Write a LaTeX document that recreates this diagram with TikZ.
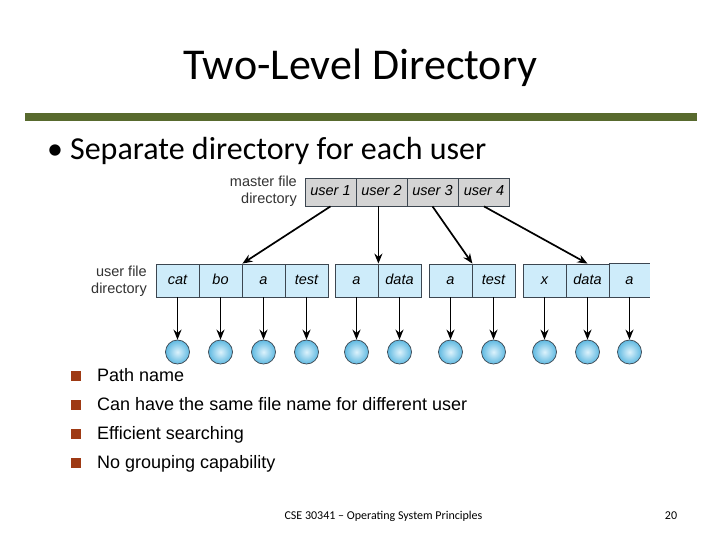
\documentclass[tikz,border=0pt]{standalone}
\usepackage{fontspec}
\setmainfont{Carlito}
\newfontfamily\arialf{Liberation Sans}
\usetikzlibrary{arrows.meta}
\definecolor{bargreen}{RGB}{88,106,46}
\definecolor{sqbrown}{RGB}{158,58,20}
\definecolor{mgray}{RGB}{212,212,212}
\definecolor{fblue}{RGB}{206,236,250}
\definecolor{cedge}{RGB}{60,70,80}
\definecolor{ballout}{RGB}{95,185,225}
\definecolor{ballin}{RGB}{220,242,252}
\tikzset{
  mcell/.style={draw=cedge, fill=mgray, line width=0.8pt, minimum width=51pt, minimum height=28pt, inner sep=0pt, text height=10.5pt, text depth=3pt, font=\arialf\itshape\fontsize{14.5}{14.5}\selectfont},
  fcell/.style={draw=cedge, fill=fblue, line width=0.8pt, minimum width=43pt, minimum height=33pt, inner sep=0pt, text height=10.5pt, text depth=3pt, font=\arialf\itshape\fontsize{14.5}{14.5}\selectfont},
  filec/.style={circle, draw=cedge, line width=0.7pt, minimum size=24pt, inner sep=0pt, inner color=ballin, outer color=ballout},
  ptr/.style={line width=1.7pt, -{Stealth[length=10pt,width=8pt]}},
  dlabel/.style={font=\arialf\fontsize{14.5}{17}\selectfont, align=right, anchor=east, text=black!80, inner sep=0pt},
  sqb/.style={fill=sqbrown, minimum size=10pt, inner sep=0pt},
  btext/.style={font=\arialf\fontsize{18}{18}\selectfont, anchor=base west, inner sep=0pt},
}
\begin{document}
\begin{tikzpicture}[x=1pt,y=-1pt]
\useasboundingbox (0,0) rectangle (720,540);
\fill[white] (0,0) rectangle (720,540);
% title
\node[anchor=base, font=\fontsize{44}{44}\selectfont, inner sep=0pt] (title) at (360.5,80) {Two-Level Directory};
\fill[bargreen] (25,113) rectangle (697,121);
\node[anchor=base west, font=\fontsize{32}{32}\selectfont, inner sep=0pt] (sub) at (47,160) {•\hspace{7pt}Separate directory for each user};
% master directory
\node[mcell] (m1) at (330.5,192) {user 1};
\node[mcell] (m2) at (381.5,192) {user 2};
\node[mcell] (m3) at (432.5,192) {user 3};
\node[mcell] (m4) at (484,192) {user 4};
\node[dlabel] (mlab) at (297,191) {master file\\directory};
% user file directories
\node[fcell] (a1) at (177.5,280.5) {cat};
\node[fcell] (a2) at (220.5,280.5) {bo};
\node[fcell] (a3) at (263.5,280.5) {a};
\node[fcell] (a4) at (306.5,280.5) {test};
\node[fcell] (b1) at (356.5,280.5) {a};
\node[fcell] (b2) at (399.5,280.5) {data};
\node[fcell] (c1) at (450.5,280.5) {a};
\node[fcell] (c2) at (493.5,280.5) {test};
\node[fcell] (d1) at (544.5,280.5) {x};
\node[fcell] (d2) at (587.5,280.5) {data};
\node[fcell, draw=none, minimum width=41pt] (d3) at (629.5,280.5) {a};
\draw[cedge, line width=0.8pt] (d2.north east) -- (d3.north east) (d2.south east) -- (d3.south east) (d2.north east) -- (d2.south east);
\node[dlabel] (ulab) at (147,281) {user file\\directory};
% master pointers
\draw[ptr] (m1.south) -- (a2.north east);
\draw[ptr] (m2.south -| b1.north east) -- (b1.north east);
\draw[ptr] (m3.south) -- (c1.north east);
\draw[ptr] (m4.south) -- (d2.north);
% files
\foreach \c in {a1,a2,a3,a4,b1,b2,c1,c2,d1,d2,d3}{
  \node[filec] (f\c) at (\c.center |- 0,352) {};
  \draw[ptr] (\c.south) -- (f\c.north);
}
% bullets
\node[sqb] (s1) at (76,376) {};
\node[btext] (t1) at (97,381) {Path name};
\node[sqb] (s2) at (76,405) {};
\node[btext] (t2) at (97,410) {Can have the same file name for different user};
\node[sqb] (s3) at (76,434) {};
\node[btext] (t3) at (97,439) {Efficient searching};
\node[sqb] (s4) at (76,463) {};
\node[btext] (t4) at (97,468) {No grouping capability};
% footer
\node[anchor=base, font=\fontsize{12}{12}\selectfont, inner sep=0pt] (foot) at (383.5,519) {CSE 30341 -- Operating System Principles};
\node[anchor=base, font=\fontsize{12}{12}\selectfont, inner sep=0pt] (pg) at (671,519) {20};
\end{tikzpicture}
\end{document}
